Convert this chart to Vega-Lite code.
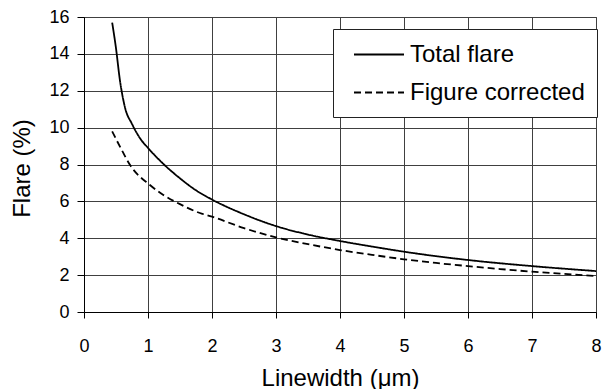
{
  "$schema": "https://vega.github.io/schema/vega-lite/v6.json",
  "width": 512,
  "height": 295,
  "autosize": "none",
  "padding": {"left": 84, "top": 17, "right": 12, "bottom": 77},
  "background": "white",
  "config": {
    "font": "Liberation Sans",
    "view": {"stroke": "#444", "strokeWidth": 1},
    "axis": {
      "grid": true,
      "gridColor": "#404040",
      "gridWidth": 1,
      "domainColor": "black",
      "tickColor": "black",
      "labelColor": "black",
      "titleColor": "black",
      "labelFont": "Liberation Sans",
      "titleFont": "Liberation Sans",
      "labelFontSize": 18,
      "titleFontSize": 24,
      "titleFontWeight": "normal",
      "labelFlush": false,
      "labelOverlap": false
    },
    "legend": {
      "orient": "none",
      "legendX": 249,
      "legendY": 12,
      "fillColor": "white",
      "strokeColor": "#222",
      "padding": 12,
      "symbolType": "M-2,0H2",
      "symbolSize": 625,
      "symbolStrokeWidth": 1.8,
      "symbolStrokeColor": "black",
      "symbolOffset": 20.5,
      "labelOffset": 17.5,
      "labelFontSize": 24,
      "labelFont": "Liberation Sans",
      "labelColor": "black",
      "labelLimit": 400,
      "rowPadding": 12,
      "cornerRadius": 0
    }
  },
  "data": {
    "values": [
      {"series": "Total flare", "linewidth": 0.44, "flare": 15.7},
      {"series": "Total flare", "linewidth": 0.5, "flare": 14.3},
      {"series": "Total flare", "linewidth": 0.56, "flare": 12.6},
      {"series": "Total flare", "linewidth": 0.64, "flare": 11.1},
      {"series": "Total flare", "linewidth": 0.75, "flare": 10.2},
      {"series": "Total flare", "linewidth": 0.88, "flare": 9.4},
      {"series": "Total flare", "linewidth": 1.0, "flare": 8.9},
      {"series": "Total flare", "linewidth": 1.25, "flare": 8.0},
      {"series": "Total flare", "linewidth": 1.5, "flare": 7.25},
      {"series": "Total flare", "linewidth": 1.75, "flare": 6.6},
      {"series": "Total flare", "linewidth": 2.0, "flare": 6.1},
      {"series": "Total flare", "linewidth": 2.5, "flare": 5.3},
      {"series": "Total flare", "linewidth": 3.0, "flare": 4.66},
      {"series": "Total flare", "linewidth": 3.5, "flare": 4.2},
      {"series": "Total flare", "linewidth": 4.0, "flare": 3.85},
      {"series": "Total flare", "linewidth": 4.5, "flare": 3.55},
      {"series": "Total flare", "linewidth": 5.0, "flare": 3.27},
      {"series": "Total flare", "linewidth": 6.0, "flare": 2.82},
      {"series": "Total flare", "linewidth": 7.0, "flare": 2.49},
      {"series": "Total flare", "linewidth": 8.0, "flare": 2.22},
      {"series": "Figure corrected", "linewidth": 0.44, "flare": 9.8},
      {"series": "Figure corrected", "linewidth": 0.58, "flare": 8.85},
      {"series": "Figure corrected", "linewidth": 0.72, "flare": 7.97},
      {"series": "Figure corrected", "linewidth": 1.03, "flare": 6.89},
      {"series": "Figure corrected", "linewidth": 1.24, "flare": 6.35},
      {"series": "Figure corrected", "linewidth": 1.5, "flare": 5.85},
      {"series": "Figure corrected", "linewidth": 1.81, "flare": 5.37},
      {"series": "Figure corrected", "linewidth": 2.0, "flare": 5.17},
      {"series": "Figure corrected", "linewidth": 2.5, "flare": 4.55},
      {"series": "Figure corrected", "linewidth": 3.0, "flare": 4.05},
      {"series": "Figure corrected", "linewidth": 3.5, "flare": 3.68},
      {"series": "Figure corrected", "linewidth": 4.0, "flare": 3.36},
      {"series": "Figure corrected", "linewidth": 4.5, "flare": 3.1},
      {"series": "Figure corrected", "linewidth": 5.0, "flare": 2.86},
      {"series": "Figure corrected", "linewidth": 5.5, "flare": 2.66},
      {"series": "Figure corrected", "linewidth": 6.0, "flare": 2.49},
      {"series": "Figure corrected", "linewidth": 6.5, "flare": 2.33},
      {"series": "Figure corrected", "linewidth": 7.0, "flare": 2.19},
      {"series": "Figure corrected", "linewidth": 7.5, "flare": 2.07},
      {"series": "Figure corrected", "linewidth": 8.0, "flare": 1.95}
    ]
  },
  "mark": {"type": "line", "color": "black", "strokeWidth": 1.8, "interpolate": "monotone"},
  "encoding": {
    "x": {
      "field": "linewidth",
      "type": "quantitative",
      "scale": {"domain": [0, 8], "nice": false},
      "axis": {
        "title": "Linewidth (μm)",
        "values": [0, 1, 2, 3, 4, 5, 6, 7, 8],
        "tickSize": 6,
        "labelPadding": 19,
        "titleY": 73,
        "titleBaseline": "alphabetic"
      }
    },
    "y": {
      "field": "flare",
      "type": "quantitative",
      "scale": {"domain": [0, 16], "nice": false},
      "axis": {
        "title": "Flare (%)",
        "values": [0, 2, 4, 6, 8, 10, 12, 14, 16],
        "tickSize": 7,
        "labelPadding": 8,
        "titleX": -62,
        "titleY": 151,
        "titleAngle": -90,
        "titleAlign": "center",
        "titleBaseline": "middle"
      }
    },
    "strokeDash": {
      "field": "series",
      "type": "nominal",
      "scale": {"domain": ["Total flare", "Figure corrected"], "range": [[1, 0], [7, 4]]},
      "legend": {"title": null}
    }
  }
}
